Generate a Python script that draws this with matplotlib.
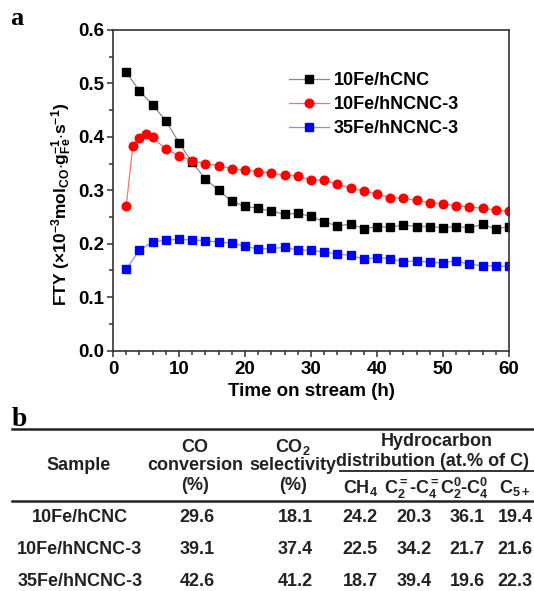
import numpy as np
import matplotlib
matplotlib.use("Agg")
import matplotlib.pyplot as plt
from matplotlib.lines import Line2D

plt.rcParams['font.family'] = ['Liberation Sans', 'DejaVu Sans']
plt.rcParams['font.weight'] = 'bold'
plt.rcParams['mathtext.fontset'] = 'custom'
plt.rcParams['mathtext.rm'] = 'Liberation Sans:bold'
plt.rcParams['mathtext.it'] = 'Liberation Sans:bold'
plt.rcParams['mathtext.bf'] = 'Liberation Sans:bold'
plt.rcParams['mathtext.default'] = 'rm'

# panel a data
t_hcnc = [2, 4, 6, 8, 10, 12, 14, 16, 18, 20, 22, 24, 26, 28, 30,
          32, 34, 36, 38, 40, 42, 44, 46, 48, 50, 52, 54, 56, 58, 60]
fty_hcnc = [0.521, 0.486, 0.460, 0.430, 0.389, 0.352, 0.321, 0.300, 0.279, 0.270,
            0.266, 0.261, 0.255, 0.257, 0.251, 0.241, 0.233, 0.237, 0.228, 0.232,
            0.231, 0.235, 0.232, 0.232, 0.230, 0.232, 0.230, 0.236, 0.228, 0.232]
t_10n = [2, 3, 4, 5, 6, 8, 10, 12, 14, 16, 18, 20, 22, 24, 26, 28,
         30, 32, 34, 36, 38, 40, 42, 44, 46, 48, 50, 52, 54, 56, 58, 60]
fty_10n = [0.270, 0.383, 0.398, 0.406, 0.399, 0.377, 0.365, 0.355, 0.350, 0.346,
           0.340, 0.338, 0.335, 0.332, 0.328, 0.327, 0.319, 0.319, 0.311, 0.304,
           0.299, 0.293, 0.286, 0.285, 0.281, 0.277, 0.274, 0.271, 0.269, 0.266,
           0.263, 0.261]
t_35n = t_hcnc
fty_35n = [0.152, 0.188, 0.203, 0.207, 0.208, 0.207, 0.205, 0.203, 0.201, 0.195,
           0.190, 0.191, 0.193, 0.188, 0.188, 0.184, 0.181, 0.178, 0.171, 0.174,
           0.172, 0.166, 0.168, 0.165, 0.164, 0.168, 0.161, 0.159, 0.158, 0.158]
labels = ['10Fe/hCNC', '10Fe/hNCNC-3', '35Fe/hNCNC-3']

# panel b data
samples = ['10Fe/hCNC', '10Fe/hNCNC-3', '35Fe/hNCNC-3']
co_conv = ['29.6', '39.1', '42.6']
co2_sel = ['18.1', '37.4', '41.2']
ch4 = ['24.2', '22.5', '18.7']
c2c4_ole = ['20.3', '34.2', '39.4']
c2c4_par = ['36.1', '21.7', '19.6']
c5p = ['19.4', '21.6', '22.3']

W, H = 534, 591
fig = plt.figure(figsize=(W / 100, H / 100), dpi=100)

def fx(px):
    return px / W

def fy(py):
    return 1 - py / H

ax = fig.add_axes([fx(113), fy(350.5), fx(509) - fx(113), fy(30) - fy(350.5)])

ax.plot(t_hcnc, fty_hcnc, color='#8a8a8a', lw=0.9, marker='s', ms=5.2,
        mfc='black', mec='black', label=labels[0])
ax.plot(t_10n, fty_10n, color='#ff7070', lw=0.9, marker='o', ms=6.2,
        mfc='red', mec='red', label=labels[1])
ax.plot(t_35n, fty_35n, color='#8c8cff', lw=0.9, marker='s', ms=5.2,
        mfc='blue', mec='blue', label=labels[2])

ax.set_xlim(0, 60)
ax.set_ylim(0, 0.6)
ax.set_xticks([0, 10, 20, 30, 40, 50, 60])
ax.set_xticks(np.arange(0, 61, 2), minor=True)
ax.set_yticks([0.0, 0.1, 0.2, 0.3, 0.4, 0.5, 0.6])
ax.set_yticks(np.arange(0, 0.61, 0.05), minor=True)
ax.yaxis.set_major_formatter(matplotlib.ticker.FormatStrFormatter('%.1f'))
ax.tick_params(which='both', direction='out', top=False, right=False,
               labelsize=13.5, width=1.1, color='#333333')
ax.tick_params(which='major', length=4.5)
ax.tick_params(which='minor', length=3)
ax.tick_params(axis='x', pad=3)
ax.tick_params(axis='y', pad=2)
for s in ax.spines.values():
    s.set_linewidth(1.2)
    s.set_color('#333333')

ax.set_xlabel('Time on stream (h)', fontsize=13.5, fontweight='bold', labelpad=4)
ax.set_ylabel(r'FTY ($\times$10$^{-3}$mol$_{CO}$$\cdot$g$_{Fe}^{-1}$$\cdot$s$^{-1}$)',
              fontsize=12.5, fontweight='bold')
ax.yaxis.set_label_coords(-0.098, 0.455)

ax.legend(loc='upper left', bbox_to_anchor=(0.445, 0.868), frameon=False,
          fontsize=13, handlelength=2.2, labelspacing=0.38, handletextpad=0.25,
          borderaxespad=0, borderpad=0)

fig.text(fx(10), fy(25), 'a', fontsize=19, fontweight='bold',
         family='Liberation Serif', ha='left', va='baseline')
fig.text(fx(12), fy(426), 'b', fontsize=20, fontweight='bold',
         family='Liberation Serif', ha='left', va='baseline')

# table
fig.add_artist(Line2D([fx(12), fx(534)], [fy(429), fy(429)], color='#222222', lw=1.8))
fig.add_artist(Line2D([fx(340), fx(534)], [fy(471), fy(471)], color='#222222', lw=1.3))
fig.add_artist(Line2D([fx(12), fx(534)], [fy(501), fy(501)], color='#222222', lw=1.8))

fs = 13
def cell(x, y, s, size=fs):
    fig.text(fx(x), fy(y), s, fontsize=size, fontweight='bold',
             ha='center', va='center', color='#222222')

cell(79, 466, 'Sample')
cell(195, 447, 'CO')
cell(195, 466, 'conversion')
cell(195, 486, '(%)')
cell(293, 447, r'CO$_2$')
cell(293, 466, 'selectivity')
cell(293, 486, '(%)')
cell(437, 442, 'Hydrocarbon')
cell(432, 462, 'distribution (at.% of C)')
cell(361, 488, r'CH$_4$')
cell(412, 488, r'C$_2^=$-C$_4^=$')
cell(464, 488, r'C$_2^0$-C$_4^0$')
cell(515, 488, r'C$_{5+}$')

row_y = [518, 550, 582]
for i in range(3):
    cell(80, row_y[i], samples[i])
    cell(197, row_y[i], co_conv[i])
    cell(295, row_y[i], co2_sel[i])
    cell(360, row_y[i], ch4[i])
    cell(414, row_y[i], c2c4_ole[i])
    cell(467, row_y[i], c2c4_par[i])
    cell(515, row_y[i], c5p[i])

fig.savefig('out.png', dpi=100)
